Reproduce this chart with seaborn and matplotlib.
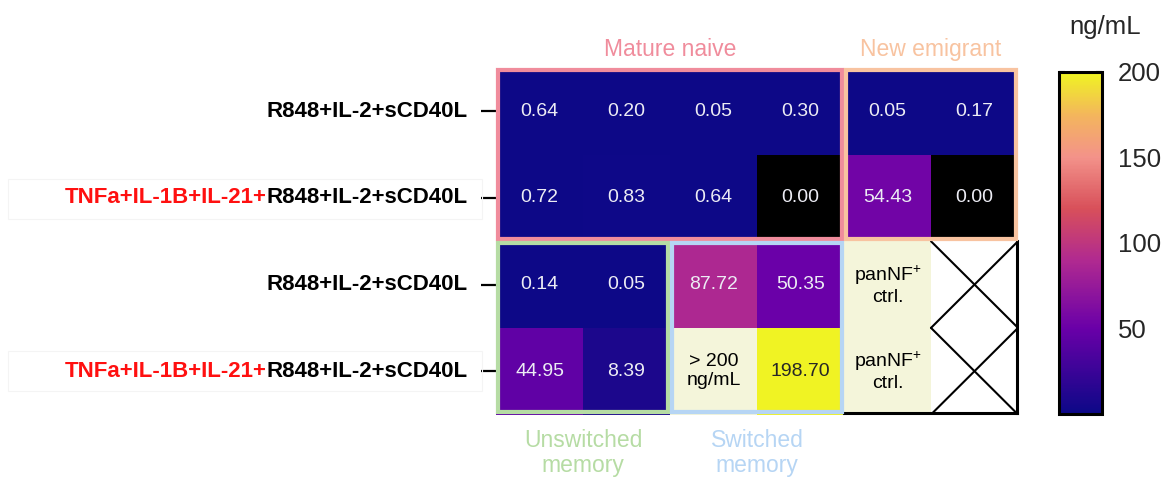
import numpy as np
import pandas as pd
import matplotlib
matplotlib.use("Agg")
import matplotlib.pyplot as plt
import matplotlib.transforms as mtransforms
from matplotlib.colors import LinearSegmentedColormap
from matplotlib.patches import Rectangle
from matplotlib.lines import Line2D
import seaborn as sns

# ---- data -------------------------------------------------------------
base_stim = "R848+IL-2+sCD40L"
cytokine_prefix = "TNFa+IL-1B+IL-21+"
row_prefixes = ["", cytokine_prefix, "", cytokine_prefix]
col_ids = ["d1", "d2", "d3", "d4", "d5", "d6"]

# IgG concentration (ng/mL); NaN = cell shown with a note instead of a value
row_1 = [0.64, 0.20, 0.05, 0.30, 0.05, 0.17]
row_2 = [0.72, 0.83, 0.64, 0.00, 54.43, 0.00]
row_3 = [0.14, 0.05, 87.72, 50.35, np.nan, np.nan]
row_4 = [44.95, 8.39, np.nan, 198.70, np.nan, np.nan]

note_cells = [(3, 2, "> 200\nng/mL"), (2, 4, "panNF$^{+}$\nctrl."), (3, 4, "panNF$^{+}$\nctrl.")]
crossed_cells = [(2, 5), (3, 5)]

# (label, col0, row0, ncols, nrows, colour, label side)
groups = [
    ("Mature naive", 0, 0, 4, 2, "#f08c9c", "top"),
    ("New emigrant", 4, 0, 2, 2, "#f8c3a0", "top"),
    ("Unswitched\nmemory", 0, 2, 2, 2, "#b6dca4", "bottom"),
    ("Switched\nmemory", 2, 2, 2, 2, "#b6d5f4", "bottom"),
]
cbar_ticks = [50, 100, 150, 200]

# ---- style ------------------------------------------------------------
sns.set_theme(style="white")
plt.rcParams["font.family"] = ["Liberation Sans", "DejaVu Sans"]
plt.rcParams["mathtext.fontset"] = "custom"
plt.rcParams["mathtext.rm"] = "Liberation Sans"
plt.rcParams["mathtext.default"] = "regular"

W, H = 1173, 478
fig = plt.figure(figsize=(W / 100, H / 100), dpi=100)


def px_axes(x0, y0, x1, y1):
    return fig.add_axes([x0 / W, 1 - y1 / H, (x1 - x0) / W, (y1 - y0) / H])


ax = px_axes(496, 68, 1018, 414.5)
cax = px_axes(1058.5, 71.5, 1101.5, 413.5)

cmap = LinearSegmentedColormap.from_list(
    "igg",
    [(0.00, "#0d0887"), (0.25, "#6a00a8"), (0.45, "#b12a90"),
     (0.60, "#d8505a"), (0.75, "#f3928a"), (0.87, "#f3b45e"),
     (1.00, "#f0f521")],
)
cmap.set_under("black")

df = pd.DataFrame([row_1, row_2, row_3, row_4], columns=col_ids)
mask = df.isna()
annot = df.map(lambda v: "" if pd.isna(v) else f"{v:.2f}")

sns.heatmap(df, ax=ax, cmap=cmap, vmin=0.01, vmax=200, mask=mask,
            annot=annot, fmt="", annot_kws={"fontsize": 14},
            cbar_ax=cax, cbar_kws={"ticks": cbar_ticks},
            xticklabels=False, yticklabels=[""] * 4, linewidths=0)

for t in ax.texts:
    if t.get_color() in ("w", "white", (1, 1, 1), "#ffffff"):
        t.set_color("#ececf4")

ax.tick_params(axis="y", left=True, length=11, width=1.6, color="black", pad=0)
ax.tick_params(axis="x", bottom=False)

# note cells
for r, c, txt in note_cells:
    ax.add_patch(Rectangle((c, r), 1, 1, facecolor="#f4f5da", edgecolor="none", zorder=1))
    ax.text(c + 0.5, r + 0.5, txt, ha="center", va="center", fontsize=14,
            color="black", linespacing=1.15, zorder=3)

# crossed (empty) cells
for r, c in crossed_cells:
    ax.add_line(Line2D([c, c + 1], [r, r + 1], color="black", lw=1.5, zorder=3))
    ax.add_line(Line2D([c, c + 1], [r + 1, r], color="black", lw=1.5, zorder=3))

# black frame around the control block
ins_x, ins_y = 1.5 / 87, 1.5 / 86.6
ax.add_line(Line2D([4, 6 - ins_x], [4 - ins_y, 4 - ins_y], color="black", lw=2.2,
                   clip_on=False, zorder=4, solid_capstyle="projecting"))
ax.add_line(Line2D([6 - ins_x, 6 - ins_x], [2, 4 - ins_y], color="black", lw=2.2,
                   clip_on=False, zorder=4, solid_capstyle="projecting"))

# population group frames and labels
lw_px = 4.2
dx, dy = (lw_px / 2) / 87, (lw_px / 2) / 86.6
for label, c0, r0, nc, nr, colour, side in groups:
    ax.add_patch(Rectangle((c0 + dx, r0 + dy), nc - 2 * dx, nr - 2 * dy,
                           fill=False, edgecolor=colour, lw=lw_px * 0.72,
                           clip_on=False, zorder=5, joinstyle="miter"))
    if side == "top":
        ax.text(c0 + nc / 2, r0 - 0.21, label, ha="center", va="center",
                fontsize=16.5, color=colour, clip_on=False)
    else:
        ax.text(c0 + nc / 2, r0 + nr + 0.44, label, ha="center", va="center",
                fontsize=16.5, color=colour, linespacing=1.1, clip_on=False)

# row labels: black stimulation text with red cytokine prefix
lab_tr = ax.get_yaxis_transform() + mtransforms.ScaledTranslation(-0.28, 0, fig.dpi_scale_trans)
for i, prefix in enumerate(row_prefixes):
    t = ax.text(0, i + 0.5, base_stim, transform=lab_tr, ha="right", va="center",
                fontsize=16, fontweight="bold", color="black")
    if prefix:
        ax.annotate(prefix, xy=(0, 0.5), xycoords=t, ha="right", va="center",
                    fontsize=16, fontweight="bold", color="#ff1010")

# faint frames around the cytokine rows' labels
for yc in (199, 371):
    fig.add_artist(Rectangle((8 / W, 1 - (yc + 20) / H), 474 / W, 40 / H,
                             transform=fig.transFigure, fill=False,
                             edgecolor="#f4f4f4", lw=0.8))

# colour bar
cbar = ax.collections[0].colorbar
cbar.outline.set_linewidth(2.2)
cbar.outline.set_edgecolor("black")
cax.yaxis.set_ticks_position("both")
cax.tick_params(axis="y", direction="in", length=4, width=1.5, color="black",
                labelsize=18.5, labelright=True, labelleft=False, pad=12)
fig.text(1105 / W, 1 - 27 / H, "ng/mL", ha="center", va="center", fontsize=18.5)

fig.savefig("out.png", dpi=100)
